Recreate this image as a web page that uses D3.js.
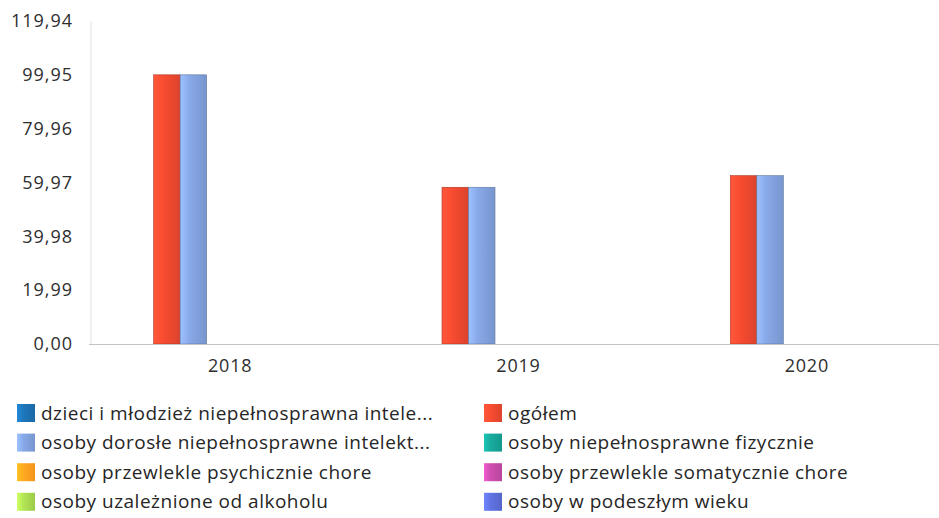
<!DOCTYPE html>
<html>
<head>
<meta charset="utf-8">
<script src="https://cdn.jsdelivr.net/npm/d3@7"></script>
<style>
  body { margin: 0; background: #fff; }
  svg { display: block; font-family: "Open Sans", sans-serif; }
</style>
</head>
<body>
<svg id="chart" width="939" height="518"></svg>
<script>
// data
const years = ["2018", "2019", "2020"];
const seriesNames = [
  "dzieci i młodzież niepełnosprawna intele...",
  "ogółem",
  "osoby dorosłe niepełnosprawne intelekt...",
  "osoby niepełnosprawne fizycznie",
  "osoby przewlekle psychicznie chore",
  "osoby przewlekle somatycznie chore",
  "osoby uzależnione od alkoholu",
  "osoby w podeszłym wieku"
];
const seriesColors = ["#1c6fae", "#e8472e", "#7f9dd8", "#16a094", "#ff9d1e", "#c24aa6", "#a6d64e", "#5a6cd4"];
const dzieci = [0, 0, 0];
const ogolem = [99.95, 58.2, 62.5];
const dorosle = [99.95, 58.2, 62.5];
const fizycznie = [0, 0, 0];
const psychicznie = [0, 0, 0];
const somatycznie = [0, 0, 0];
const alkohol = [0, 0, 0];
const podeszly = [0, 0, 0];
const seriesValues = [dzieci, ogolem, dorosle, fizycznie, psychicznie, somatycznie, alkohol, podeszly];
const yTicks = [0, 19.99, 39.98, 59.97, 79.96, 99.95, 119.94];

const svg = d3.select("#chart"),
    margin = { top: 21, left: 91, bottom: 344 },
    yMax = 119.94;

const x0 = d3.scaleBand().domain(years).range([89, 954]);
const barW = 26.5;
const x1 = d3.scaleBand().domain(d3.range(seriesNames.length))
    .range([0, barW * seriesNames.length]);
const groupOffset = (x0.bandwidth() - x1.range()[1]) / 2;

const y = d3.scaleLinear().domain([0, yMax]).range([margin.bottom, margin.top]);

const fmt = v => d3.format(".2f")(v).replace(".", ",");

// gradients for the bars
const defs = svg.append("defs");
seriesColors.forEach(function (c, i) {
    const g = defs.append("linearGradient")
        .attr("id", "grad" + i)
        .attr("x1", "0%").attr("x2", "100%").attr("y1", "0%").attr("y2", "0%");
    const base = d3.color(c);
    g.append("stop").attr("offset", "0%").attr("stop-color", base.brighter(0.6));
    g.append("stop").attr("offset", "35%").attr("stop-color", base.brighter(0.2));
    g.append("stop").attr("offset", "100%").attr("stop-color", base.darker(0.15));
});

// y axis line
svg.append("line")
    .attr("x1", margin.left).attr("x2", margin.left)
    .attr("y1", y(yMax)).attr("y2", y(0))
    .attr("stroke", "#e2e2e2").attr("stroke-width", 1);

// y tick labels
svg.append("g")
    .selectAll("text")
    .data(yTicks)
    .join("text")
    .attr("x", 73)
    .attr("y", d => y(d))
    .attr("dy", "0.35em")
    .attr("text-anchor", "end")
    .attr("font-size", "18px")
    .attr("letter-spacing", "1px")
    .attr("fill", "#2e2e2e")
    .text(d => fmt(d));

// bars
const groups = svg.append("g")
    .selectAll("g")
    .data(years)
    .join("g")
    .attr("transform", d => "translate(" + (x0(d) + groupOffset) + ",0)");

groups.selectAll("rect")
    .data((d, yi) => seriesValues.map((vals, si) => ({ si: si, v: vals[yi] })).filter(o => o.v > 0))
    .join("rect")
    .attr("x", d => x1(d.si))
    .attr("width", x1.bandwidth())
    .attr("y", d => y(d.v))
    .attr("height", d => y(0) - y(d.v))
    .attr("fill", d => "url(#grad" + d.si + ")")
    .attr("stroke", d => d3.color(seriesColors[d.si]).darker(0.8))
    .attr("stroke-width", 0.6);

// baseline
svg.append("line")
    .attr("x1", margin.left - 2).attr("x2", 939)
    .attr("y1", y(0) + 0.5).attr("y2", y(0) + 0.5)
    .attr("stroke", "#c4c4c4").attr("stroke-width", 1.2);

// x labels
svg.append("g")
    .selectAll("text")
    .data(years)
    .join("text")
    .attr("x", d => x0(d) + x0.bandwidth() / 2 - 3)
    .attr("y", 366)
    .attr("dy", "0.35em")
    .attr("text-anchor", "middle")
    .attr("font-size", "18px")
    .attr("letter-spacing", "0.8px")
    .attr("fill", "#2e2e2e")
    .text(d => d);

// legend, two columns filled row by row
const legend = svg.append("g")
    .selectAll("g")
    .data(seriesNames)
    .join("g")
    .attr("transform", (d, i) => "translate(" + (i % 2 === 0 ? 17 : 484) + "," + (413 + Math.floor(i / 2) * 29.6) + ")");

legend.append("rect")
    .attr("x", 0).attr("y", -9)
    .attr("width", 18).attr("height", 18)
    .attr("fill", (d, i) => "url(#grad" + i + ")");

legend.append("text")
    .attr("x", 24)
    .attr("dy", "0.35em")
    .attr("font-size", "19px")
    .attr("letter-spacing", "0.5px")
    .attr("fill", "#262626")
    .text(d => d);
</script>
</body>
</html>
